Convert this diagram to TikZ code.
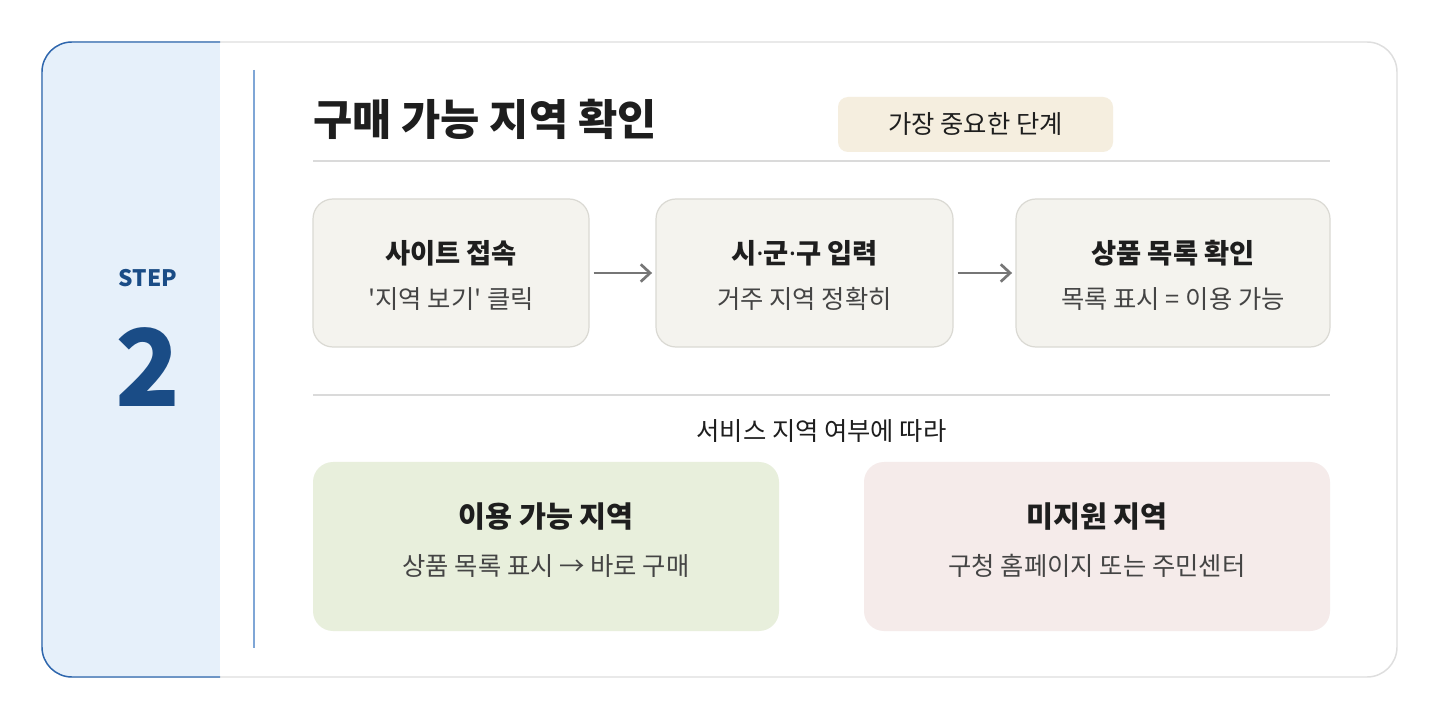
\documentclass[tikz,border=0pt]{standalone}
\usepackage{fontspec}
\setmainfont{Noto Sans CJK KR}[Ligatures=TeXOff]
\newfontfamily\latinfont{Noto Sans}
\usetikzlibrary{arrows.meta}

\definecolor{panelblue}{HTML}{E6F0FA}
\definecolor{edgeblue}{HTML}{2D66AE}
\definecolor{lineblue}{HTML}{7FA6D6}
\definecolor{stepblue}{HTML}{1A4C86}
\definecolor{cardgray}{HTML}{DEDEDE}
\definecolor{rulegray}{HTML}{DADADA}
\definecolor{boxfill}{HTML}{F4F3EE}
\definecolor{boxedge}{HTML}{DAD9D3}
\definecolor{badgefill}{HTML}{F5EEDF}
\definecolor{okfill}{HTML}{E8EFDC}
\definecolor{nofill}{HTML}{F5EBEA}
\definecolor{inktext}{HTML}{1E1E1E}
\definecolor{subtext}{HTML}{444444}
\definecolor{arrowgray}{HTML}{767676}

\newcommand{\mdot}{{\latinfont ·}}

\tikzset{
  stepbox/.style={draw=boxedge, line width=0.9pt, fill=boxfill, rounded corners=15pt,
    minimum height=111pt},
  areabox/.style={fill=#1, rounded corners=15pt, minimum width=349.5pt, minimum height=126.75pt},
  boxtitle/.style={text=inktext, font=\fontsize{20.5}{24}\selectfont\bfseries},
  boxsub/.style={text=subtext, font=\fontsize{19}{22}\selectfont},
  flow/.style={draw=arrowgray, line width=2.2pt, shorten <=3pt, shorten >=2.5pt,
    -{Straight Barb[length=7pt, width=13pt, line width=2pt]}},
}

\begin{document}
\begin{tikzpicture}[x=0.75pt, y=-0.75pt]
    \useasboundingbox (0,0) rectangle (1440,720);

    % card and step panel
    \draw[cardgray, line width=1.1pt, fill=white, rounded corners=22.5pt] (42,42) rectangle (1397,677);
    \begin{scope}
        \clip[rounded corners=22.5pt] (42,42) rectangle (1397,677);
        \fill[panelblue] (42,42) rectangle (220,677);
    \end{scope}
    \draw[edgeblue, line width=1.1pt, rounded corners=22.5pt] (220,42) -- (42,42) -- (42,677) -- (220,677);
    \draw[lineblue, line width=1.1pt] (254,70) -- (254,648);

    \node[text=stepblue, font=\fontsize{17}{20}\selectfont\bfseries] (step) at (148,278) {STEP};
    \node[text=stepblue, font=\fontsize{80}{90}\selectfont\bfseries] (num) at (148,367) {2};

    % header
    \node[anchor=west, inner sep=0pt, text=inktext, font=\fontsize{32}{38}\selectfont\bfseries] (title) at (313,119) {구매 가능 지역 확인};
    \node[fill=badgefill, rounded corners=7.5pt, minimum width=206.25pt, minimum height=41.25pt,
        text=inktext, font=\fontsize{19}{22}\selectfont] (badge) at (975.5,124.5) {가장 중요한 단계};
    \draw[rulegray, line width=1.2pt] (313,161) -- (1330,161);

    % steps
    \node[stepbox, minimum width=207pt] (s1) at (451,273) {};
    \node[stepbox, minimum width=222.75pt] (s2) at (804.5,273) {};
    \node[stepbox, minimum width=235.5pt] (s3) at (1173,273) {};

    \node[boxtitle] (s1t) at (451,253) {사이트 접속};
    \node[boxsub] (s1s) at (451,299) {'지역 보기' 클릭};
    \node[boxtitle] (s2t) at (804.5,253) {시\mdot 군\mdot 구 입력};
    \node[boxsub] (s2s) at (804.5,299) {거주 지역 정확히};
    \node[boxtitle] (s3t) at (1173,253) {상품 목록 확인};
    \node[boxsub] (s3s) at (1173,299) {목록 표시 = 이용 가능};

    \draw[flow] (s1) -- (s2);
    \draw[flow] (s2) -- (s3);

    \draw[rulegray, line width=1.2pt] (313,395) -- (1330,395);
    \node[text=inktext, font=\fontsize{19}{22}\selectfont] (split) at (821.5,431) {서비스 지역 여부에 따라};

    % outcomes
    \node[areabox=okfill] (ok) at (546,546.5) {};
    \node[areabox=nofill] (no) at (1097,546.5) {};
    \node[boxtitle, font=\fontsize{22}{26}\selectfont\bfseries] (okt) at (546,517) {이용 가능 지역};
    \node[boxsub] (oks) at (546,566) {상품 목록 표시 → 바로 구매};
    \node[boxtitle, font=\fontsize{22}{26}\selectfont\bfseries] (not) at (1097,517) {미지원 지역};
    \node[boxsub] (nos) at (1097,566) {구청 홈페이지 또는 주민센터};
\end{tikzpicture}
\end{document}
